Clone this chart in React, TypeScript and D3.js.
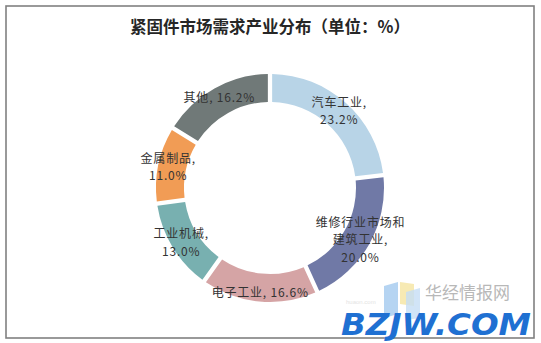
import React from "react";
import * as d3 from "d3";

const categories = ["汽车工业", "维修行业市场和建筑工业", "电子工业", "工业机械", "金属制品", "其他"];
const values = [23.2, 20.0, 16.6, 13.0, 11.0, 16.2];
const labelLines = [
  ["汽车工业,", "23.2%"],
  ["维修行业市场和", "建筑工业,", "20.0%"],
  ["电子工业, 16.6%"],
  ["工业机械,", "13.0%"],
  ["金属制品,", "11.0%"],
  ["其他, 16.2%"],
];
const colors = ["#b8d4e7", "#7079a6", "#d5a4a5", "#78b0b0", "#f19c55", "#707978"];
const title = "紧固件市场需求产业分布（单位：%）";

const W = 541;
const H = 343;
const cx = 270;
const cy = 188;
const outerR = 114;
const innerR = 86;

export default function App() {
  const pie = d3.pie<number>().sort(null).value((d) => d)(values);
  const arc = d3.arc<d3.PieArcDatum<number>>().innerRadius(innerR).outerRadius(outerR).padAngle(0.03);
  const labelArc = d3.arc<d3.PieArcDatum<number>>().innerRadius(104).outerRadius(104);
  const font = "'Microsoft YaHei', 'Noto Sans CJK SC', sans-serif";
  const lh = 17.5;
  return (
    <svg width={W} height={H} style={{ position: "fixed", left: 0, top: 0, background: "#fff" }}>
      <rect x={6} y={6} width={528} height={332} fill="#fff" stroke="#808080" strokeWidth={1.6} />
      <text x={cx} y={33} textAnchor="middle" fontFamily="'Noto Sans CJK SC', sans-serif" fontWeight="bold" fontSize={16.5} fill="#262626">
        {title}
      </text>
      <g transform={`translate(${cx},${cy})`}>
        {pie.map((p, i) => (
          <path key={categories[i]} d={arc(p) || ""} fill={colors[i]} />
        ))}
        {pie.map((p, i) => {
          const [lx, ly] = labelArc.centroid(p);
          const lines = labelLines[i];
          const y0 = ly - ((lines.length - 1) * lh) / 2 + 5;
          return (
            <g key={"l" + i}>
              {lines.map((t, j) => (
                <text key={j} x={lx} y={y0 + j * lh} textAnchor="middle" fontFamily={font} fontSize={12} letterSpacing={0.8} fill="#333">
                  {t}
                </text>
              ))}
            </g>
          );
        })}
      </g>
      <g opacity={0.85}>
        <path d="M384,286 L398,282 L398,314 L384,318 Z" fill="#a9cdf0" />
        <path d="M400,282 L414,284 L414,306 L400,304 Z" fill="#f6e7a8" />
        <path d="M406,292 L420,288 L420,318 L406,320 Z" fill="#bcd8f4" opacity={0.8} />
      </g>
      <text x={425} y={299} fontFamily="'Noto Sans CJK SC', sans-serif" fontSize={17} fill="#b8b8b8">
        华经情报网
      </text>
      <text x={346} y={304} fontFamily="Arial, sans-serif" fontSize={6} fill="#e4e4e4">
        huaon.com
      </text>
      <text x={341} y={335} fontFamily="'DejaVu Sans', Arial, sans-serif" fontStyle="italic" fontWeight="bold" fontSize={30} fill="#1f70d2" textLength={190} lengthAdjust="spacingAndGlyphs">
        BZJW.COM
      </text>
    </svg>
  );
}
